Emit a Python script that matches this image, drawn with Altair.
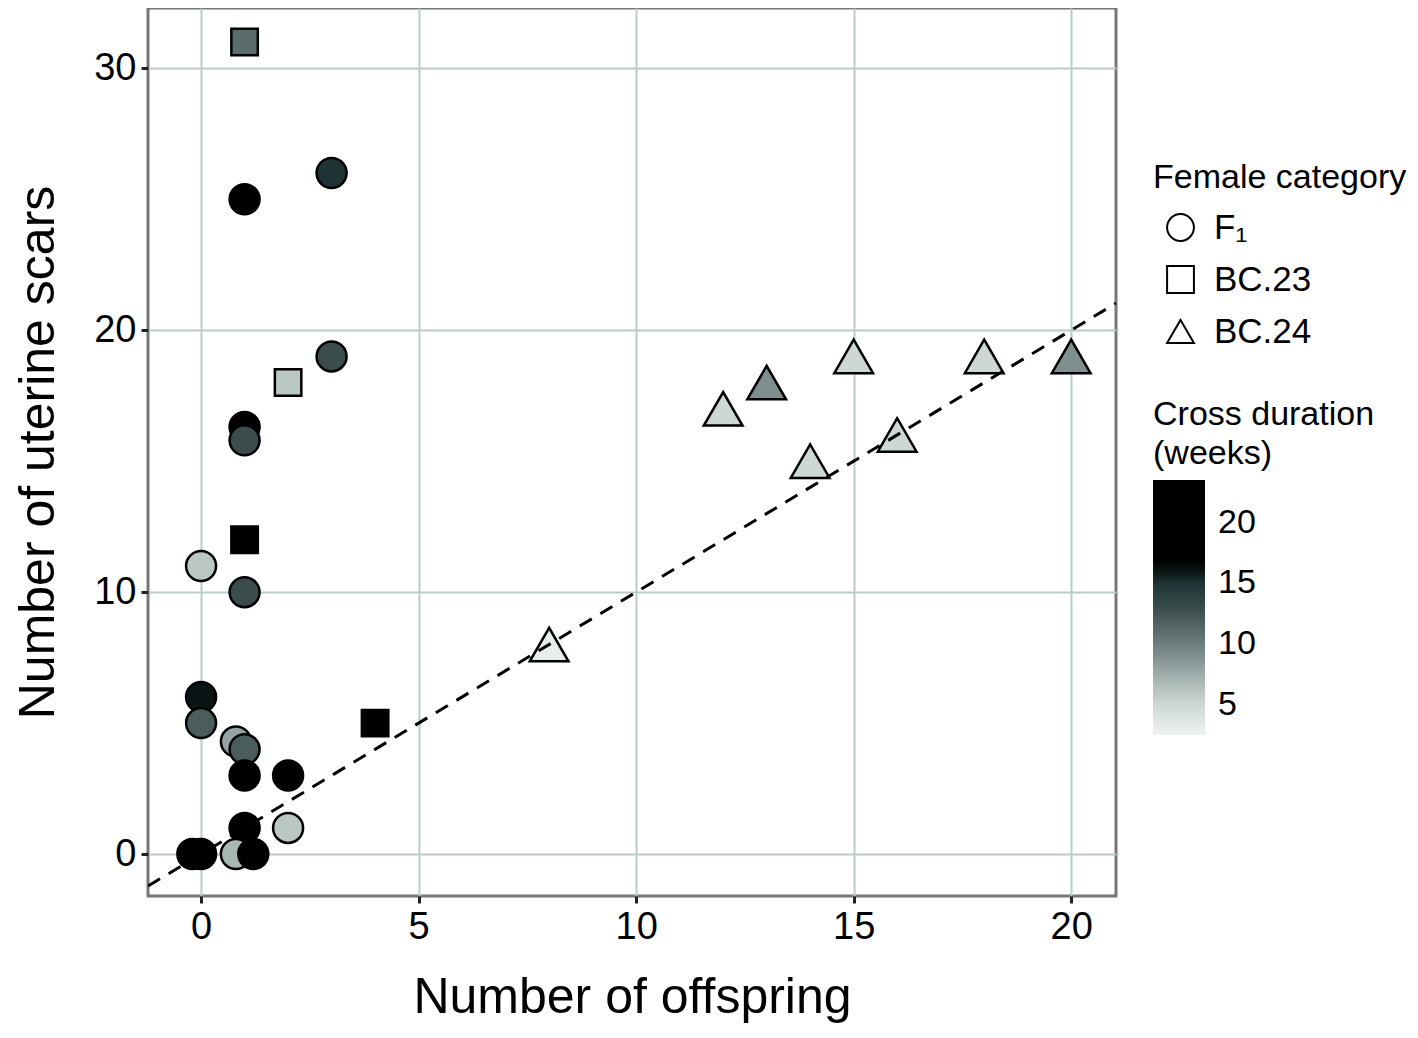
import altair as alt
import pandas as pd

# ---- data ----
offspring = [1, 3, 3, 1, 1, 0, 1, 0, 0, 0.8, 1, 1, 2, 1, 2, -0.2, 0, 0.8, 1.2,
             1, 2, 1, 4,
             12, 13, 15, 18, 20, 14, 16, 8]
scars = [25, 26, 19, 16.3, 15.8, 11, 10, 6, 5, 4.3, 4, 3, 3, 1, 1, 0, 0, 0, 0,
         31, 18, 12, 5,
         17, 18, 19, 19, 19, 15, 16, 8]
category = (["F₁"] * 19) + (["BC.23"] * 4) + (["BC.24"] * 8)
duration = [20, 15, 13, 20, 13, 6, 13, 16, 12, 8, 12, 20, 20, 20, 6, 20, 20, 7, 20,
            11, 6, 20, 20,
            5, 9, 5, 5, 9, 5, 5, 3]

line_x = [-1.22, 21.03]
line_y = [-1.22, 21.03]

cat_order = ["F₁", "BC.23", "BC.24"]
shapes = ["circle", "square", "triangle-up"]
sizes = [900, 700, 1500]

col_domain = [2.5, 5, 7, 9, 11, 13, 15, 16.6, 23.5]
col_range = ["#eef2f2", "#cdd7d6", "#a8b6b4", "#7f8f8f", "#5a6c6c",
             "#3a4c4c", "#1e3434", "#000000", "#000000"]

df = pd.DataFrame({"offspring": offspring, "scars": scars,
                   "category": category, "duration": duration})
line_df = pd.DataFrame({"x": line_x, "y": line_y})

FONT = "Liberation Sans"

xscale = alt.Scale(domain=[-1.22, 21.03], nice=False, zero=False)
yscale = alt.Scale(domain=[-1.6, 32.3], nice=False, zero=False)

base = alt.Chart(df).encode(
    x=alt.X("offspring:Q", scale=xscale,
            axis=alt.Axis(values=[0, 5, 10, 15, 20], title="Number of offspring")),
    y=alt.Y("scars:Q", scale=yscale,
            axis=alt.Axis(values=[0, 10, 20, 30], title="Number of uterine scars")),
    shape=alt.Shape("category:N", scale=alt.Scale(domain=cat_order, range=shapes),
                    sort=cat_order,
                    legend=alt.Legend(title="Female category", orient="none",
                                      legendX=1005, legendY=153,
                                      symbolFillColor="white", symbolStrokeColor="black",
                                      symbolStrokeWidth=2, symbolSize=720,
                                      symbolOffset=10,
                                      labelFontSize=35, titleFontSize=34,
                                      rowPadding=16, titlePadding=15,
                                      labelOffset=16, titleLimit=400, labelLimit=300)),
    fill=alt.Fill("duration:Q",
                  scale=alt.Scale(domain=col_domain, range=col_range, interpolate="rgb"),
                  legend=alt.Legend(title=["Cross duration", "(weeks)"], orient="none",
                                    legendX=1005, legendY=390,
                                    values=[5, 10, 15, 20],
                                    gradientLength=255, gradientThickness=52,
                                    gradientStrokeWidth=0,
                                    labelFontSize=34, titleFontSize=34,
                                    titleLineHeight=39, titleLimit=400,
                                    titlePadding=9, labelOffset=13)),
)

layers = []
for cat, sz in zip(cat_order, sizes):
    layers.append(
        base.transform_filter(alt.datum.category == cat)
        .mark_point(filled=True, stroke="black", strokeWidth=2.5, opacity=1, size=sz)
    )

line = alt.Chart(line_df).mark_line(color="black", strokeWidth=3, strokeDash=[14, 10], clip=True).encode(
    x=alt.X("x:Q", scale=xscale),
    y=alt.Y("y:Q", scale=yscale),
)

chart = alt.layer(*layers, line).properties(
    width=968, height=888,
    autosize=alt.AutoSizeParams(type="none"),
    padding={"left": 140, "top": 0, "right": 292, "bottom": 128},
).configure_view(
    stroke="#777777", strokeWidth=3
).configure_axis(
    grid=True, gridColor="#bccaca", gridWidth=2,
    domain=False, tickColor="#222222", tickWidth=3, tickSize=7,
    labelFont=FONT, labelFontSize=38, labelColor="black", labelPadding=5,
    titleFont=FONT, titleFontSize=50, titleFontWeight="normal", titleColor="black",
).configure_axisX(titlePadding=26).configure_axisY(titlePadding=30).configure_legend(
    labelFont=FONT, titleFont=FONT, titleFontWeight="normal",
    labelColor="black", titleColor="black"
)

chart.save("out.html", embed_options={"renderer": "svg", "actions": False})
